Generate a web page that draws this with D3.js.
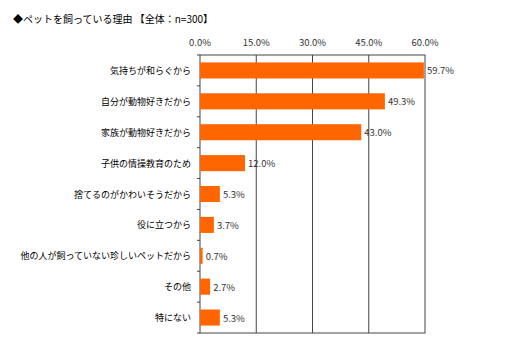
<!DOCTYPE html>
<html>
<head>
<meta charset="utf-8">
<script src="https://cdn.jsdelivr.net/npm/d3@7"></script>
<style>
  body { margin: 0; background: #fff; }
  text { font-family: "Noto Sans CJK JP", sans-serif; }
</style>
</head>
<body>
<svg id="chart" width="520" height="361"></svg>
<script>
// data
var categories = ['気持ちが和らぐから', '自分が動物好きだから', '家族が動物好きだから', '子供の情操教育のため',
  '捨てるのがかわいそうだから', '役に立つから', '他の人が飼っていない珍しいペットだから', 'その他', '特にない'];
var values = [59.7, 49.3, 43.0, 12.0, 5.3, 3.7, 0.7, 2.7, 5.3];
var ticks = [0, 15, 30, 45, 60];

var svg = d3.select('#chart');
var plotLeft = 200, plotRight = 425, plotTop = 55, plotBottom = 333;

var x = d3.scaleLinear().domain([0, 60]).range([plotLeft, plotRight]);
var y = d3.scaleBand().domain(categories).range([plotTop, plotBottom]).paddingInner(0.48).paddingOuter(0.24);

svg.append('text')
  .attr('x', 13).attr('y', 23)
  .attr('font-size', 10).attr('fill', '#000')
  .text('◆ペットを飼っている理由 【全体：n=300】');

// gridlines
svg.selectAll('.grid')
  .data(ticks.slice(1, -1))
  .enter().append('line')
  .attr('x1', function(d) { return x(d); })
  .attr('x2', function(d) { return x(d); })
  .attr('y1', plotTop).attr('y2', plotBottom)
  .attr('stroke', '#444').attr('stroke-width', 1);

// frame
svg.append('rect')
  .attr('x', plotLeft).attr('y', plotTop)
  .attr('width', plotRight - plotLeft).attr('height', plotBottom - plotTop)
  .attr('fill', 'none').attr('stroke', '#444').attr('stroke-width', 1);

// tick labels on top
svg.selectAll('.tick-label')
  .data(ticks)
  .enter().append('text')
  .attr('x', function(d) { return x(d); })
  .attr('y', 46)
  .attr('text-anchor', 'middle')
  .attr('font-size', 9.5).attr('fill', '#333')
  .text(function(d) { return d.toFixed(1) + '%'; });

// small ticks on the category axis
svg.selectAll('.ytick')
  .data(d3.range(categories.length + 1))
  .enter().append('line')
  .attr('x1', plotLeft - 3).attr('x2', plotLeft)
  .attr('y1', function(i) { return plotTop + i * y.step(); })
  .attr('y2', function(i) { return plotTop + i * y.step(); })
  .attr('stroke', '#444');

// bars
svg.selectAll('.bar')
  .data(values)
  .enter().append('rect')
  .attr('x', x(0))
  .attr('y', function(d, i) { return y(categories[i]); })
  .attr('width', function(d) { return x(d) - x(0); })
  .attr('height', y.bandwidth())
  .attr('fill', '#ff6600');

// value labels
svg.selectAll('.val')
  .data(values)
  .enter().append('text')
  .attr('x', function(d) { return x(d) + 3; })
  .attr('y', function(d, i) { return y(categories[i]) + y.bandwidth() / 2 + 4; })
  .attr('font-size', 9.5).attr('fill', '#333')
  .text(function(d) { return d.toFixed(1) + '%'; });

// category labels
svg.selectAll('.cat')
  .data(categories)
  .enter().append('text')
  .attr('x', 191)
  .attr('y', function(d) { return y(d) + y.bandwidth() / 2 + 3.5; })
  .attr('text-anchor', 'end')
  .attr('font-size', 9).attr('fill', '#000')
  .text(function(d) { return d; });
</script>
</body>
</html>
